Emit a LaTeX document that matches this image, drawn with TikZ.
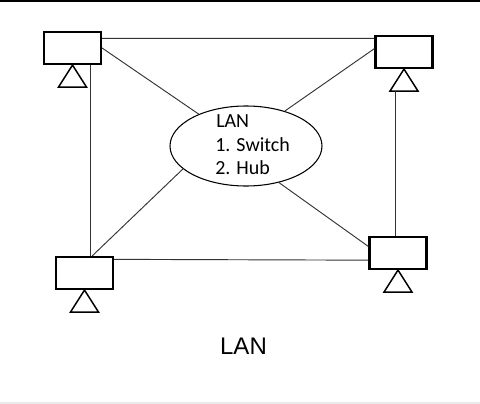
\documentclass[tikz,border=0pt]{standalone}
\usepackage{fontspec}
\setmainfont{Liberation Sans}
\newfontfamily\calib{Carlito}
\usetikzlibrary{shapes.geometric,calc}
\begin{document}
\begin{tikzpicture}[x=0.75pt,y=-0.75pt,
  station/.style={draw=black,line width=1.6pt,minimum width=42.75pt,minimum height=24pt,inner sep=0pt,fill=white},
  wire/.style={draw=black!80,line width=0.7pt},
  stand/.style={draw=black,line width=1.1pt,line join=miter},
  lbl/.style={anchor=base west,inner sep=0pt,font=\calib\fontsize{15pt}{18pt}\selectfont}]
\useasboundingbox (0,0) rectangle (480,404);
\fill[white] (0,0) rectangle (480,404);
\draw[line width=1.6pt] (0,0.6) -- (480,0.6);
\draw[black!8,line width=1pt] (0,403) -- (480,403);

% central ellipse
\node[ellipse,draw=black,line width=0.8pt,minimum width=114pt,minimum height=60pt,inner sep=0pt] (ell) at (246,146) {};
\node[lbl] (t1) at (216,127) {LAN};
\node[lbl] (t2) at (215,151) {1. Switch};
\node[lbl] (t3) at (215,174) {2. Hub};

% stations
\node[station] (tl) at (72.5,48) {};
\node[station] (tr) at (404,52) {};
\node[station] (bl) at (84.5,273) {};
\node[station] (br) at (398,253) {};

% stands
\draw[stand] (tl.south) -- ++(-14,22) -- ++(28,0) -- cycle;
\draw[stand] (tr.south) -- ++(-14,22) coordinate (trl) -- ++(28,0) -- cycle;
\draw[stand] (bl.south) -- ++(-14,22) -- ++(28,0) -- cycle;
\draw[stand] (br.south) -- ++(-14,22) -- ++(28,0) -- cycle;
\coordinate (trb) at ($(tr.south)+(-9,22)$);

% connectors
\draw[wire] ($(tl.north east)!0.22!(tl.south east)$) -- ($(tr.north west)!0.1!(tr.south west)$);
\coordinate (tlv) at ($(tl.south west)!0.81!(tl.south east)$);
\draw[wire] (tlv) -- (tlv |- bl.north);
\draw[wire] ($(bl.north east)!0.1!(bl.south east)$) -- ($(br.north west)!0.71!(br.south west)$);
\draw[wire] (br.north -| trb) -- (trb);
\draw[wire] (tl.east) -- (ell.146.6);
\draw[wire] ($(tr.north west)!0.4!(tr.south west)$) -- (ell.42.7);
\draw[wire] ($(bl.north west)!0.63!(bl.north east)$) -- (ell.200.9);
\draw[wire] ($(br.north west)!0.31!(br.south west)$) -- (ell.312.6);

% caption
\node[anchor=base,inner sep=0pt,font=\fontsize{18pt}{21pt}\selectfont] (cap) at (243.5,354) {LAN};
\end{tikzpicture}
\end{document}
